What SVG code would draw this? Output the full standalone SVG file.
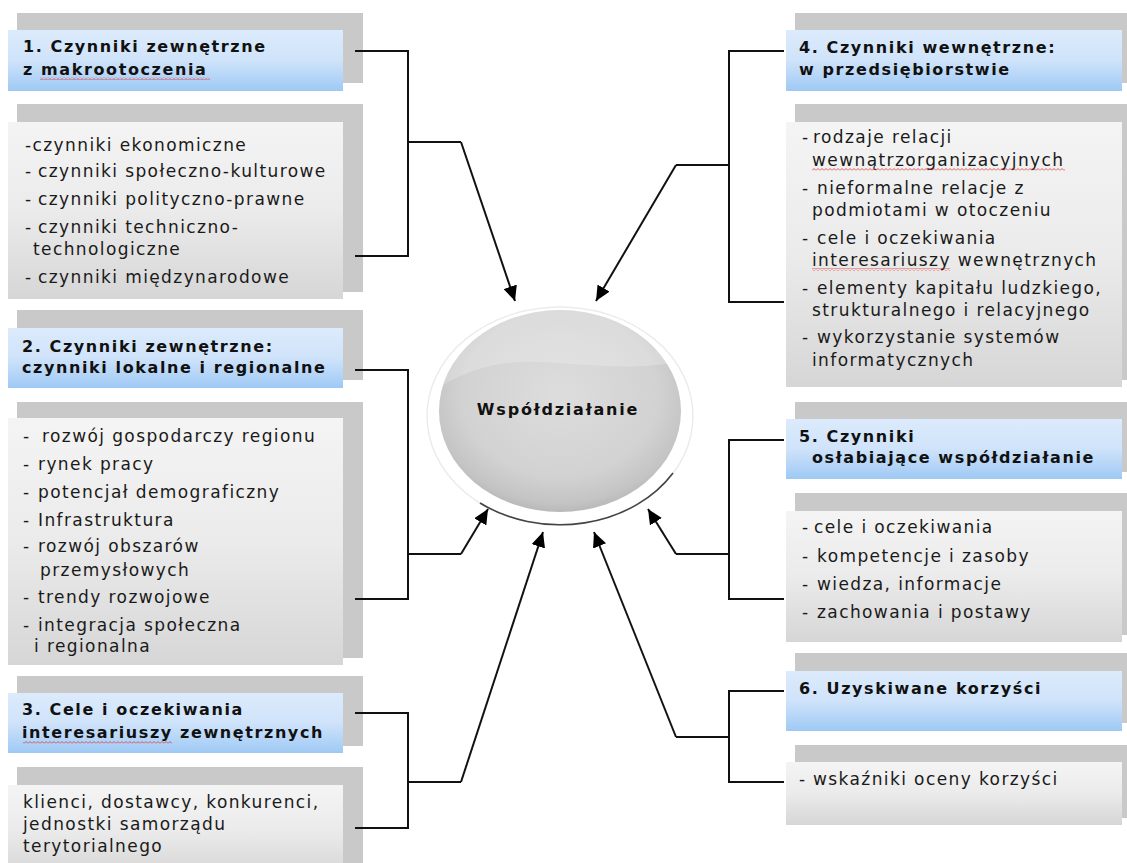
<svg xmlns="http://www.w3.org/2000/svg" width="1127" height="863" viewBox="0 0 1127 863">
<style>
.sh{fill:#c9c9c9}
.hd{fill:url(#gBlue)}
.ct{fill:url(#gGray)}
.h{font-family:"DejaVu Sans",Verdana,sans-serif;font-weight:bold;font-size:16px;letter-spacing:1.6px;fill:#111}
.t{font-family:"DejaVu Sans",Verdana,sans-serif;font-size:17px;letter-spacing:1.4px;fill:#1a1a1a}
.ln{fill:none;stroke:#111;stroke-width:2}
.ar{fill:none;stroke:#111;stroke-width:2;marker-end:url(#arr)}
.wv{fill:url(#wave)}
</style>
<defs>
<linearGradient id="gBlue" x1="0" y1="0" x2="0" y2="1">
<stop offset="0" stop-color="#dcebfc"/><stop offset="0.5" stop-color="#cfe3fa"/><stop offset="1" stop-color="#9ec9f5"/>
</linearGradient>
<linearGradient id="gGray" x1="0" y1="0" x2="0" y2="1">
<stop offset="0" stop-color="#f4f4f4"/><stop offset="0.5" stop-color="#ebebeb"/><stop offset="1" stop-color="#d6d6d6"/>
</linearGradient>
<radialGradient id="gBall" cx="0.5" cy="0.42" r="0.58">
<stop offset="0" stop-color="#dddddd"/><stop offset="0.7" stop-color="#d2d2d2"/><stop offset="0.92" stop-color="#c4c4c4"/><stop offset="1" stop-color="#b9b9b9"/>
</radialGradient>
<pattern id="wave" width="4" height="3" patternUnits="userSpaceOnUse">
<path d="M0 2.5 L2 0.5 L4 2.5" fill="none" stroke="#e03030" stroke-width="0.8"/>
</pattern>
<clipPath id="ballClip"><ellipse cx="560" cy="411" rx="121" ry="101"/></clipPath>
<marker id="arr" markerUnits="userSpaceOnUse" markerWidth="16" markerHeight="14" refX="15" refY="7" orient="auto">
<path d="M0 0 L15 7 L0 14 Z" fill="#000"/>
</marker>
</defs>
<rect width="1127" height="863" fill="#fff"/>

<g id="node1">
<rect class="sh" x="17" y="13" width="346" height="70"/>
<rect class="hd" x="8" y="30" width="335" height="61"/>
<text class="h" x="23" y="52">1. Czynniki zewnętrzne</text>
<text class="h" x="23" y="75">z makrootoczenia</text>
<rect class="wv" x="40" y="77" width="170" height="3"/>
<rect class="sh" x="17" y="104" width="346" height="188"/>
<rect class="ct" x="8" y="122" width="335" height="177"/>
<text class="t" x="25" y="151">-czynniki ekonomiczne</text>
<text class="t" y="177"><tspan x="25">-</tspan><tspan x="38">czynniki społeczno-kulturowe</tspan></text>
<text class="t" y="205"><tspan x="25">-</tspan><tspan x="38">czynniki polityczno-prawne</tspan></text>
<text class="t" y="233"><tspan x="25">-</tspan><tspan x="38">czynniki techniczno-</tspan></text>
<text class="t" x="33" y="255">technologiczne</text>
<text class="t" y="283"><tspan x="25">-</tspan><tspan x="38">czynniki międzynarodowe</tspan></text>
</g>

<g id="node2">
<rect class="sh" x="17" y="310" width="346" height="70"/>
<rect class="hd" x="8" y="328" width="335" height="60"/>
<text class="h" x="22" y="352">2. Czynniki zewnętrzne:</text>
<text class="h" x="22" y="373">czynniki lokalne i regionalne</text>
<rect class="sh" x="17" y="402" width="346" height="256"/>
<rect class="ct" x="8" y="418" width="335" height="247"/>
<text class="t" y="442"><tspan x="23">-</tspan><tspan x="42">rozwój gospodarczy regionu</tspan></text>
<text class="t" y="470"><tspan x="23">-</tspan><tspan x="38">rynek pracy</tspan></text>
<text class="t" y="498"><tspan x="23">-</tspan><tspan x="38">potencjał demograficzny</tspan></text>
<text class="t" y="526"><tspan x="23">-</tspan><tspan x="38">Infrastruktura</tspan></text>
<text class="t" y="552"><tspan x="23">-</tspan><tspan x="38">rozwój obszarów</tspan></text>
<text class="t" x="40" y="576">przemysłowych</text>
<text class="t" y="603"><tspan x="23">-</tspan><tspan x="38">trendy rozwojowe</tspan></text>
<text class="t" y="631"><tspan x="23">-</tspan><tspan x="38">integracja społeczna</tspan></text>
<text class="t" x="34" y="652">i regionalna</text>
</g>

<g id="node3">
<rect class="sh" x="17" y="676" width="346" height="70"/>
<rect class="hd" x="8" y="693" width="335" height="60"/>
<text class="h" x="22" y="715">3. Cele i oczekiwania</text>
<text class="h" x="22" y="738">interesariuszy zewnętrznych</text>
<rect class="wv" x="23" y="741" width="149" height="3"/>
<rect class="sh" x="17" y="767" width="346" height="100"/>
<rect class="ct" x="8" y="785" width="335" height="90"/>
<text class="t" x="23" y="808">klienci, dostawcy, konkurenci,</text>
<text class="t" x="23" y="830">jednostki samorządu</text>
<text class="t" x="23" y="852">terytorialnego</text>
</g>

<g id="node4">
<rect class="sh" x="795" y="13" width="346" height="70"/>
<rect class="hd" x="786" y="30" width="336" height="61"/>
<text class="h" x="799" y="53">4. Czynniki wewnętrzne:</text>
<text class="h" x="799" y="75">w przedsiębiorstwie</text>
<rect class="sh" x="795" y="104" width="346" height="276"/>
<rect class="ct" x="786" y="122" width="336" height="265"/>
<text class="t" y="143"><tspan x="802">-</tspan><tspan x="813">rodzaje relacji</tspan></text>
<text class="t" x="812" y="166">wewnątrzorganizacyjnych</text>
<rect class="wv" x="812" y="168" width="253" height="3"/>
<text class="t" y="194"><tspan x="802">-</tspan><tspan x="817">nieformalne relacje z</tspan></text>
<text class="t" x="812" y="216">podmiotami w otoczeniu</text>
<text class="t" y="244"><tspan x="802">-</tspan><tspan x="817">cele i oczekiwania</tspan></text>
<text class="t" x="812" y="266">interesariuszy wewnętrznych</text>
<rect class="wv" x="812" y="268" width="138" height="3"/>
<text class="t" y="294"><tspan x="802">-</tspan><tspan x="817">elementy kapitału ludzkiego,</tspan></text>
<text class="t" x="812" y="316">strukturalnego i relacyjnego</text>
<text class="t" y="343"><tspan x="802">-</tspan><tspan x="817">wykorzystanie systemów</tspan></text>
<text class="t" x="812" y="366">informatycznych</text>
</g>

<g id="node5">
<rect class="sh" x="795" y="402" width="346" height="70"/>
<rect class="hd" x="786" y="419" width="336" height="60"/>
<text class="h" x="799" y="442">5. Czynniki</text>
<text class="h" x="812" y="463">osłabiające współdziałanie</text>
<rect class="sh" x="795" y="493" width="346" height="142"/>
<rect class="ct" x="786" y="511" width="336" height="131"/>
<text class="t" y="533"><tspan x="802">-</tspan><tspan x="814">cele i oczekiwania</tspan></text>
<text class="t" y="562"><tspan x="802">-</tspan><tspan x="817">kompetencje i zasoby</tspan></text>
<text class="t" y="590"><tspan x="802">-</tspan><tspan x="817">wiedza, informacje</tspan></text>
<text class="t" y="618"><tspan x="802">-</tspan><tspan x="817">zachowania i postawy</tspan></text>
</g>

<g id="node6">
<rect class="sh" x="795" y="653" width="346" height="70"/>
<rect class="hd" x="786" y="671" width="336" height="60"/>
<text class="h" x="799" y="694">6. Uzyskiwane korzyści</text>
<rect class="sh" x="795" y="745" width="346" height="73"/>
<rect class="ct" x="786" y="762" width="336" height="63"/>
<text class="t" y="785"><tspan x="799">-</tspan><tspan x="813">wskaźniki oceny korzyści</tspan></text>
</g>

<g id="center">
<ellipse cx="560" cy="416" rx="133" ry="109" fill="#fff" stroke="#ececec" stroke-width="1.5"/>
<path d="M480 503 A133 109 0 0 0 673 473" fill="none" stroke="#444" stroke-width="1.6"/>
<ellipse cx="560" cy="411" rx="121" ry="101" fill="url(#gBall)"/>
<g clip-path="url(#ballClip)">
<path d="M430 395 C460 370 500 360 540 362 C590 364 630 372 690 360 L690 300 L430 300 Z" fill="#fff" opacity="0.22"/>
</g>
<text class="h" x="558" y="415" text-anchor="middle" style="letter-spacing:1.8px">Współdziałanie</text>
</g>

<g id="connectors">
<path class="ln" d="M355 51 H408 V256 H355"/>
<path class="ln" d="M408 142 H461"/>
<path class="ar" d="M461 142 L515 301"/>
<path class="ln" d="M355 370 H408 V599 H355"/>
<path class="ln" d="M408 554 H461"/>
<path class="ar" d="M461 554 L488 509"/>
<path class="ln" d="M355 713 H408 V828 H355"/>
<path class="ln" d="M408 782 H461"/>
<path class="ar" d="M461 782 L543 532"/>
<path class="ln" d="M784 51 H729 V302 H784"/>
<path class="ln" d="M729 165 H676"/>
<path class="ar" d="M676 165 L596 301"/>
<path class="ln" d="M784 440 H729 V599 H784"/>
<path class="ln" d="M729 554 H676"/>
<path class="ar" d="M676 554 L648 509"/>
<path class="ln" d="M784 691 H729 V782 H784"/>
<path class="ln" d="M729 737 H676"/>
<path class="ar" d="M676 737 L594 532"/>
</g>
</svg>
